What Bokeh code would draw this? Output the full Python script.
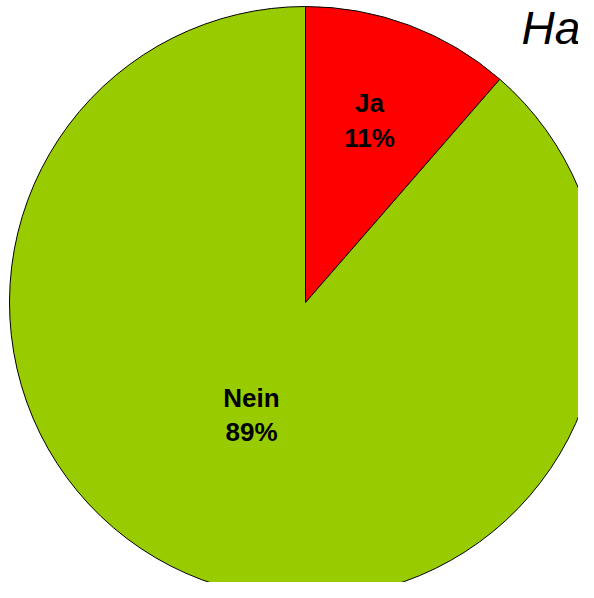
import math
from bokeh.plotting import figure
from bokeh.models import ColumnDataSource, Range1d
from bokeh.core.properties import value
from bokeh.embed import file_html
from bokeh.resources import INLINE

# data
categories = ["Ja", "Nein"]
shares = [11.4, 88.6]
colors = ["#FF0000", "#99CC00"]
title_text = "Hab"

W, H = 578, 582
p = figure(width=W, height=H, output_backend="svg", toolbar_location=None,
           x_range=Range1d(0, W), y_range=Range1d(0, H), min_border=0)
p.axis.visible = False
p.grid.visible = False
p.outline_line_color = None
p.background_fill_color = "white"

cx, cy, r = 305, 280, 296
total = sum(shares)
starts, ends = [], []
a = math.pi / 2
for s in shares:
    starts.append(a)
    a = a - 2 * math.pi * s / total
    ends.append(a)

src = ColumnDataSource(dict(cat=categories, start=starts, end=ends, color=colors))
p.wedge(x=cx, y=cy, radius=r, start_angle="start", end_angle="end",
        direction="clock", fill_color="color", line_color="black", line_width=1,
        source=src)

txt1 = list(categories)
txt2 = [f"{round(s)}%" for s in shares]

# label placement (pixel layout)
lx = [369, 251]
ly1 = [H - 102, H - 397]
ly2 = [H - 137, H - 431]
lsrc = ColumnDataSource(dict(x=lx, y1=ly1, y2=ly2, t1=txt1, t2=txt2))
for ycol, tcol in (("y1", "t1"), ("y2", "t2")):
    p.text(x="x", y=ycol, text=tcol, source=lsrc, text_align="center",
           text_baseline="alphabetic", text_font=value("Liberation Sans"),
           text_font_size="26px", text_font_style="bold", text_color="black")

p.text(x=[521], y=[H - 27], text=[title_text], text_align="left",
       text_baseline="alphabetic", text_font=value("Liberation Sans"),
       text_font_size="46px", text_font_style="italic", text_color="black")

open("out.html", "w").write(file_html(p, INLINE))
